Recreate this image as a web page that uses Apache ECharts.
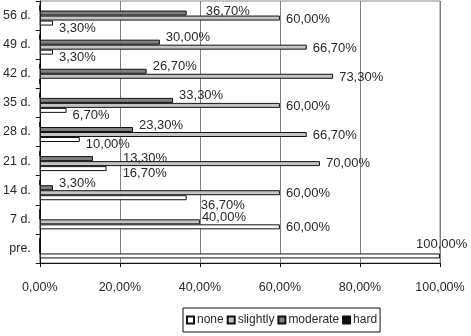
<!DOCTYPE html>
<html>
<head>
<meta charset="utf-8">
<script src="https://cdn.jsdelivr.net/npm/echarts@6/dist/echarts.min.js"></script>
<style>
  html, body { margin: 0; padding: 0; background: #fff; }
  #chart { width: 471px; height: 336px; }
</style>
</head>
<body>
<div id="chart"></div>
<script>
// Time points, bottom to top
const categories = ['pre.', '7 d.', '14 d.', '21 d.', '28 d.', '35 d.', '42 d.', '49 d.', '56 d.'];

// Share of cases per grade (%)
const noneValues     = [100, 60, 36.7, 16.7, 10, 6.7, 0, 3.3, 3.3];
const slightlyValues = [0, 40, 60, 70, 66.7, 60, 73.3, 66.7, 60];
const moderateValues = [0, 0, 3.3, 13.3, 23.3, 33.3, 26.7, 30, 36.7];
const hardValues     = [0, 0, 0, 0, 0, 0, 0, 0, 0];

const xTicks = [0, 20, 40, 60, 80, 100];

// Label placement: default vertical shift per grade, plus a few hand-placed labels
const labelShift = { none: 5, slightly: 1, moderate: -4.5, hard: 0 };
const labelMoves = {
  'none|pre.': [-30, -11.5],
  'none|7 d.': [0, 1],
  'slightly|7 d.': [-4, -4.5],
  'none|14 d.': [8, 7.5],
  'none|21 d.': [10, 4.5],
  'moderate|21 d.': [24, 0],
  'slightly|21 d.': [0, 0],
  'moderate|56 d.': [13, -1.5]
};

const pct = v => v.toFixed(2).replace('.', ',') + '%';
const textColor = '#2a2a2a';
const font = 'Liberation Sans, Arial, sans-serif';

function buildData(name, values) {
  return values.map((v, i) => {
    if (v === 0) return { value: v, label: { show: false } };
    const mv = labelMoves[name + '|' + categories[i]];
    const off = mv ? mv : [0, labelShift[name]];
    return { value: v, label: { offset: off } };
  });
}

function makeSeries(name, values, color) {
  return {
    name: name,
    type: 'bar',
    barWidth: 5,
    barGap: '0%',
    data: buildData(name, values),
    itemStyle: { color: color, borderColor: '#111', borderWidth: 1 },
    label: {
      show: true,
      position: 'right',
      distance: 6,
      color: textColor,
      fontFamily: font,
      fontSize: 13,
      formatter: p => pct(p.value)
    },
    emphasis: { disabled: true },
    animation: false
  };
}

const chart = echarts.init(document.getElementById('chart'), null, { renderer: 'canvas' });
chart.setOption({
  backgroundColor: '#fff',
  animation: false,
  grid: {
    left: 38, right: 31, top: 1, bottom: 73,
    show: true, borderColor: '#888', borderWidth: 1
  },
  legend: {
    data: ['none', 'slightly', 'moderate', 'hard'],
    left: 183, top: 308,
    orient: 'horizontal',
    icon: 'rect',
    itemWidth: 7, itemHeight: 7, itemGap: 3,
    padding: [6, 3, 6, 3],
    borderColor: '#111', borderWidth: 1,
    selectedMode: false,
    textStyle: { color: textColor, fontFamily: font, fontSize: 12, padding: [0, 0, 0, -2] }
  },
  xAxis: {
    type: 'value',
    min: xTicks[0], max: xTicks[xTicks.length - 1], interval: 20,
    axisLine: { show: true, lineStyle: { color: '#111' } },
    axisTick: { show: true, length: 4, lineStyle: { color: '#111' } },
    splitLine: { show: true, lineStyle: { color: '#808080', width: 1 } },
    axisLabel: { color: textColor, fontFamily: font, fontSize: 12.5, margin: 18, formatter: v => pct(v) }
  },
  yAxis: {
    type: 'category',
    data: categories,
    axisLine: { show: true, lineStyle: { color: '#111' } },
    axisTick: { show: true, length: 4, lineStyle: { color: '#111' } },
    axisLabel: { color: textColor, fontFamily: font, fontSize: 12.5, margin: 9, padding: [12, 0, 0, 0] },
    splitLine: { show: false }
  },
  series: [
    makeSeries('hard', hardValues, '#111'),
    makeSeries('moderate', moderateValues, '#808080'),
    makeSeries('slightly', slightlyValues, '#c4c4c4'),
    makeSeries('none', noneValues, '#ffffff')
  ]
});
</script>
</body>
</html>
